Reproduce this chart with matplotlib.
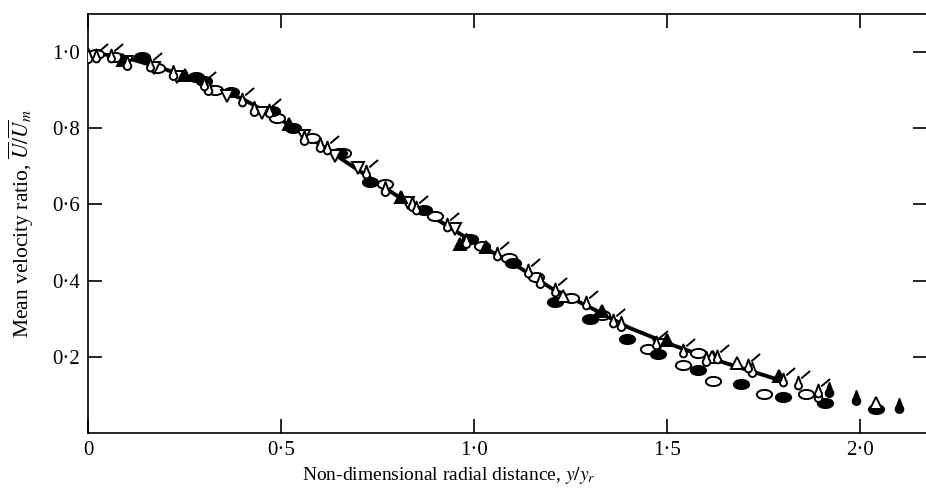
import matplotlib
matplotlib.use('Agg')
import matplotlib.pyplot as plt
import matplotlib.transforms as mtrans
from matplotlib.path import Path
import numpy as np

plt.rcParams['font.family'] = ['Liberation Serif', 'DejaVu Serif']
plt.rcParams['mathtext.fontset'] = 'stix'

# faired curve
curve_x = [0.0, 0.1, 0.2, 0.3, 0.4, 0.5, 0.6, 0.7, 0.8, 0.9, 1.0,
           1.1, 1.2, 1.3, 1.4, 1.5, 1.6, 1.7, 1.8]
curve_y = [1.0, 0.985, 0.955, 0.918, 0.877, 0.822, 0.758, 0.69, 0.623, 0.563, 0.50,
           0.446, 0.38, 0.33, 0.277, 0.236, 0.20, 0.168, 0.136]

# open ellipses
oell_x = [0.02, 0.07, 0.18, 0.33, 0.49, 0.58, 0.66, 0.77, 0.90, 1.02, 1.09,
          1.16, 1.25, 1.33, 1.45, 1.54, 1.58, 1.62, 1.75, 1.86]
oell_y = [0.995, 0.988, 0.958, 0.90, 0.826, 0.775, 0.735, 0.655, 0.57, 0.49, 0.46,
          0.41, 0.355, 0.31, 0.221, 0.179, 0.21, 0.137, 0.103, 0.103]

# filled ellipses
fell_x = [0.14, 0.28, 0.30, 0.37, 0.477, 0.53, 0.65, 0.73, 0.87, 0.99, 1.10,
          1.21, 1.30, 1.396, 1.477, 1.58, 1.69, 1.80, 1.91, 2.04]
fell_y = [0.987, 0.934, 0.925, 0.895, 0.845, 0.80, 0.734, 0.66, 0.585, 0.51, 0.445,
          0.345, 0.30, 0.247, 0.208, 0.166, 0.129, 0.095, 0.08, 0.063]

# open inverted triangles
otri_x = [0.10, 0.17, 0.23, 0.36, 0.45, 0.56, 0.64, 0.70, 0.83, 0.95, 1.48]
otri_y = [0.975, 0.958, 0.935, 0.885, 0.84, 0.78, 0.728, 0.695, 0.605, 0.535, 0.232]

# filled triangles
ftri_x = [0.09, 0.25, 0.52, 0.81, 0.964, 1.03, 1.33, 1.50, 1.62, 1.79]
ftri_y = [0.98, 0.94, 0.81, 0.62, 0.497, 0.487, 0.32, 0.245, 0.20, 0.15]

# open upright triangles
utri_x = [1.23, 1.616, 1.68, 2.04]
utri_y = [0.36, 0.20, 0.185, 0.08]

# open drops
odrop_x = [0.0, 0.10, 0.22, 0.31, 0.43, 0.56, 0.60, 0.77, 0.84, 0.98, 1.17, 1.38, 1.60, 1.72, 1.89]
odrop_y = [0.99, 0.972, 0.945, 0.905, 0.85, 0.775, 0.755, 0.64, 0.60, 0.505, 0.40, 0.285, 0.195, 0.165, 0.10]

# filled drops
fdrop_x = [1.92, 1.99, 2.10]
fdrop_y = [0.112, 0.093, 0.072]

# flagged symbols
flag_x = [0.02, 0.06, 0.16, 0.30, 0.40, 0.47, 0.62, 0.72, 0.85, 0.93, 1.06, 1.14,
          1.21, 1.29, 1.36, 1.47, 1.54, 1.63, 1.71, 1.80, 1.84, 1.89]
flag_y = [0.99, 0.99, 0.965, 0.915, 0.875, 0.845, 0.748, 0.685, 0.59, 0.545, 0.47, 0.425,
          0.375, 0.34, 0.295, 0.235, 0.215, 0.20, 0.175, 0.14, 0.13, 0.11]

xticks = [0, 0.5, 1.0, 1.5, 2.0]
xticklabels = ['0', '0·5', '1·0', '1·5', '2·0']
yticks = [0.2, 0.4, 0.6, 0.8, 1.0]
yticklabels = ['0·2', '0·4', '0·6', '0·8', '1·0']

# marker shapes
circ = Path.unit_circle()
ell_h = circ.transformed(mtrans.Affine2D().scale(1.0, 0.6))
drop_verts = ([(0, 1.0)]
              + [(0.5 * np.cos(a), -0.35 + 0.5 * np.sin(a))
                 for a in np.linspace(0.25 * np.pi, -1.25 * np.pi, 25)]
              + [(0, 1.0)])
drop = Path(drop_verts, closed=True)
small_drop = drop.transformed(mtrans.Affine2D().scale(0.75, 0.75))
flag_line = Path([(0.3, 0.55), (1.25, 1.35)], [Path.MOVETO, Path.LINETO])
flag = Path.make_compound_path(small_drop, flag_line)

fig = plt.figure(figsize=(9.26, 4.88), dpi=100)
ax = fig.add_axes([88 / 926, 55 / 488, 839 / 926, 419 / 488])

ax.plot(curve_x, curve_y, color='black', lw=2.8, zorder=2)

mk = dict(linestyle='none', color='black', markeredgewidth=1.4, zorder=3)
ax.plot(oell_x, oell_y, marker=ell_h, markersize=11, markerfacecolor='white', **mk)
ax.plot(fell_x, fell_y, marker=ell_h, markersize=11, markerfacecolor='black', **mk)
ax.plot(otri_x, otri_y, marker='v', markersize=8, markerfacecolor='white', **mk)
ax.plot(ftri_x, ftri_y, marker='^', markersize=8, markerfacecolor='black', **mk)
ax.plot(utri_x, utri_y, marker='^', markersize=8, markerfacecolor='white', **mk)
ax.plot(odrop_x, odrop_y, marker=drop, markersize=11, markerfacecolor='white', **mk)
ax.plot(fdrop_x, fdrop_y, marker=drop, markersize=11, markerfacecolor='black', **mk)
ax.plot(flag_x, flag_y, marker=flag, markersize=18, markerfacecolor='white', **mk)

ax.set_xlim(0, 2.173)
ax.set_ylim(0, 1.1)
ax.set_xticks(xticks)
ax.set_xticklabels(xticklabels)
ax.set_yticks(yticks)
ax.set_yticklabels(yticklabels)
ax.tick_params(direction='in', length=10, width=1.2, top=True, right=True,
               labelsize=15, pad=6)
for s in ax.spines.values():
    s.set_linewidth(1.2)

ax.set_xlabel(r'Non-dimensional radial distance, $y/y_r$', fontsize=14)
ax.xaxis.set_label_coords(0.43, -0.077)
ax.set_ylabel(r'Mean velocity ratio, $\overline{U}/\overline{U}_m$', fontsize=15.5)
ax.yaxis.set_label_coords(-0.062, 0.50)

plt.savefig('out.png', dpi=100)
